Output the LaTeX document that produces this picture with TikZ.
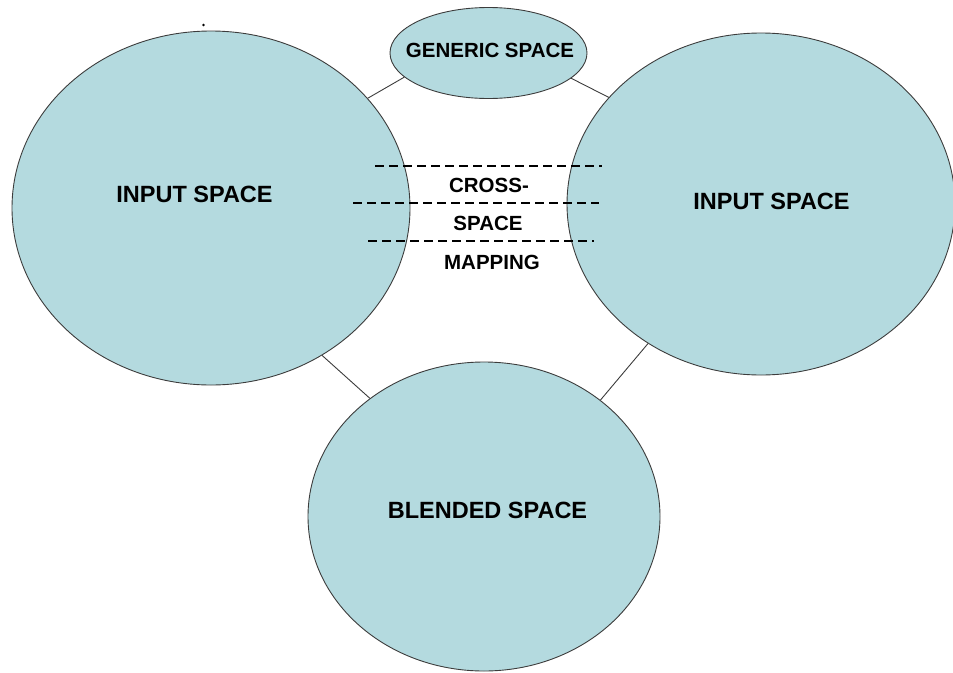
\documentclass[tikz,border=0pt]{standalone}
\usepackage{fontspec}
\setmainfont{Liberation Sans}
\usetikzlibrary{shapes.geometric}
\definecolor{spacefill}{RGB}{180,218,223}
\definecolor{edgegray}{RGB}{60,60,60}
\begin{document}
\begin{tikzpicture}[x=1pt,y=-1pt,
  space/.style={ellipse,draw=edgegray,line width=0.9pt,fill=spacefill,inner sep=0pt},
  bigtext/.style={font=\fontsize{23.5}{28}\selectfont\bfseries,inner sep=0pt},
  smalltext/.style={font=\fontsize{20.5}{24}\selectfont\bfseries,inner sep=0pt},
  link/.style={draw=edgegray,line width=0.9pt},
  dashline/.style={draw=black,line width=2pt,dash pattern=on 9pt off 5pt}]
\useasboundingbox (0,0) rectangle (953,672);
% ellipses
\node[space,minimum width=398pt,minimum height=354pt] (left) at (211,208) {};
\node[space,minimum width=388pt,minimum height=342pt] (right) at (761,204) {};
\node[space,minimum width=197pt,minimum height=91pt] (generic) at (488.5,53) {};
\node[space,minimum width=352pt,minimum height=309pt] (blend) at (484,516.5) {};
% connectors
\draw[link] (generic.196.3) -- (left.35);
\draw[link] (generic.343.4) -- (right.145.5);
\draw[link] (left.307.5) -- (blend.134.9);
\draw[link] (right.231.2) -- (blend.45.1);
% labels
\node[smalltext] (tgen) at (490,50) {GENERIC SPACE};
\node[bigtext] (tleft) at (194.5,194.5) {INPUT SPACE};
\node[bigtext] (tright) at (771.5,201.5) {INPUT SPACE};
\node[bigtext] (tblend) at (487.5,510) {BLENDED SPACE};
\node[smalltext] (tcross) at (489,185) {CROSS-};
\node[smalltext] (tspace) at (488,223) {SPACE};
\node[smalltext] (tmap) at (492,262) {MAPPING};
% dashed lines
\coordinate (d1a) at (375,166);
\coordinate (d1b) at (602,166);
\coordinate (d2a) at (353,203);
\coordinate (d2b) at (599,203);
\coordinate (d3a) at (368,241);
\coordinate (d3b) at (594,241);
\draw[dashline] (d1a) -- (d1b);
\draw[dashline] (d2a) -- (d2b);
\draw[dashline] (d3a) -- (d3b);
% stray dot
\fill[black] (203.5,25) circle (1.3pt);
\end{tikzpicture}
\end{document}
